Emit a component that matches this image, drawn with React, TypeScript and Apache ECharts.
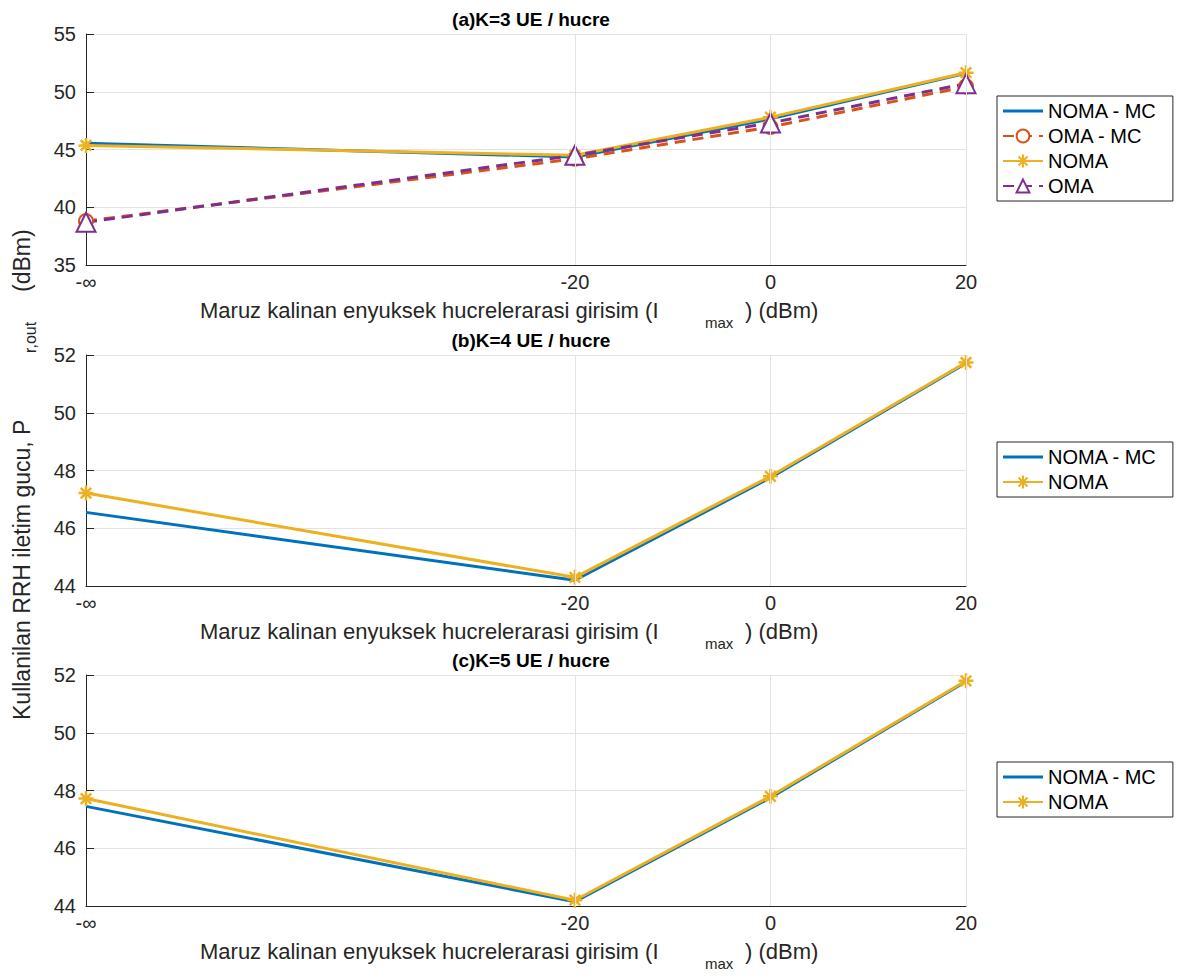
import React, { useEffect, useRef } from "react";
import * as echarts from "echarts";

// x positions: -70 stands for -infinity
const xVals = [-70, -20, 0, 20];
const xTickLabels = ["-∞", "-20", "0", "20"];

const aNomaMC = [45.55, 44.35, 47.65, 51.6];
const aOmaMC = [38.8, 44.2, 46.95, 50.45];
const aNoma = [45.35, 44.5, 47.8, 51.65];
const aOma = [38.7, 44.5, 47.3, 50.7];

const bNomaMC = [46.55, 44.2, 47.75, 51.72];
const bNoma = [47.22, 44.3, 47.8, 51.74];

const cNomaMC = [47.45, 44.15, 47.75, 51.78];
const cNoma = [47.72, 44.2, 47.8, 51.8];

const titles = ["(a)K=3 UE / hucre", "(b)K=4 UE / hucre", "(c)K=5 UE / hucre"];
const yRanges = [
  { min: 35, max: 55, interval: 5 },
  { min: 44, max: 52, interval: 2 },
  { min: 44, max: 52, interval: 2 },
];

const BLUE = "#0072BD";
const ORANGE = "#D95319";
const YELLOW = "#EDB120";
const PURPLE = "#7E2F8E";
const AX = "#262626";
const GRID = "#e3e3e3";
const FONT = "'Liberation Sans', Arial, Helvetica, sans-serif";
const ASTER = "path://M10,0L10,20M0,10L20,10M3,3L17,17M3,17L17,3";
const LINE_ICON = "path://M0,0L40,0L40,3L0,3Z";

const pts = (ys: number[]) => xVals.map((x, i) => [x, ys[i]]);

export default function App() {
  const ref = useRef<HTMLDivElement>(null);
  useEffect(() => {
    document.body.style.margin = "0";
    const chart = echarts.init(ref.current!, null, { renderer: "svg" });
    const tops = [34, 355, 675];
    const gridH = 231;
    const grids = tops.map((t) => ({ left: 86, width: 880, top: t, height: gridH }));
    const xAxes = tops.map((_, i) => ({
      type: "value",
      gridIndex: i,
      min: -70,
      max: 20,
      axisLine: { show: true, onZero: false, lineStyle: { color: AX, width: 1 } },
      axisTick: { show: true, inside: true, length: 8, customValues: [-20, 0, 20], lineStyle: { color: AX } },
      axisLabel: {
        show: true,
        customValues: xVals,
        color: AX,
        fontSize: 20,
        fontFamily: FONT,
        margin: 7,
        formatter: (v: number) => xTickLabels[xVals.indexOf(v)] ?? "",
      },
      splitLine: { show: false },
    }));
    const yAxes = tops.map((_, i) => ({
      type: "value",
      gridIndex: i,
      min: yRanges[i].min,
      max: yRanges[i].max,
      interval: yRanges[i].interval,
      axisLine: { show: true, onZero: false, lineStyle: { color: AX, width: 1 } },
      axisTick: { show: true, inside: true, length: 8, lineStyle: { color: AX } },
      axisLabel: { color: AX, fontSize: 20, fontFamily: FONT, margin: 10 },
      splitLine: { show: true, lineStyle: { color: GRID, width: 1 } },
    }));

    const gridSeries = tops.map((_, i) => ({
      type: "line",
      name: "grid" + i,
      xAxisIndex: i,
      yAxisIndex: i,
      z: 1,
      silent: true,
      data: [],
      showSymbol: false,
      lineStyle: { width: 0 },
      markLine: {
        silent: true,
        symbol: ["none", "none"],
        label: { show: false },
        lineStyle: { color: GRID, type: "solid", width: 1 },
        data: [{ xAxis: -20 }, { xAxis: 0 }, { xAxis: 20 }],
        animation: false,
      },
    }));

    const nomaMC = (i: number, d: number[]) => ({
      type: "line",
      name: "NOMA - MC",
      xAxisIndex: i,
      yAxisIndex: i,
      data: pts(d),
      symbol: "none",
      lineStyle: { color: BLUE, width: 3 },
      itemStyle: { color: BLUE },
    });
    const noma = (i: number, d: number[]) => ({
      type: "line",
      name: "NOMA",
      xAxisIndex: i,
      yAxisIndex: i,
      data: pts(d),
      symbol: ASTER,
      symbolSize: 15,
      lineStyle: { color: YELLOW, width: 3 },
      itemStyle: { color: YELLOW, borderColor: YELLOW, borderWidth: 2.5 },
    });
    const omaMC = (i: number, d: number[]) => ({
      type: "line",
      name: "OMA - MC",
      xAxisIndex: i,
      yAxisIndex: i,
      data: pts(d),
      symbol: "emptyCircle",
      symbolSize: 14,
      lineStyle: { color: ORANGE, width: 3, type: [11, 7] },
      itemStyle: { color: ORANGE, borderColor: ORANGE, borderWidth: 3 },
    });
    const oma = (i: number, d: number[]) => ({
      type: "line",
      name: "OMA",
      xAxisIndex: i,
      yAxisIndex: i,
      data: pts(d),
      symbol: "emptyTriangle",
      symbolSize: 19,
      lineStyle: { color: PURPLE, width: 3, type: [11, 7] },
      itemStyle: { color: PURPLE, borderColor: PURPLE, borderWidth: 3 },
    });

    const legendBase = {
      orient: "vertical",
      left: 997,
      itemWidth: 40,
      itemHeight: 16,
      itemGap: 5,
      padding: [5, 16, 5, 5],
      borderColor: AX,
      borderWidth: 1,
      backgroundColor: "#fff",
      textStyle: { fontSize: 20, fontFamily: FONT, color: "#000" },
      selectedMode: false,
    };
    const blueItem = { name: "NOMA - MC", icon: LINE_ICON };

    const xLabelParts = (bottom: number) => [
      {
        type: "text",
        left: 200,
        top: bottom + 34,
        style: { text: "Maruz kalinan enyuksek hucrelerarasi girisim (I", fontSize: 22, fontFamily: FONT, fill: AX },
      },
      {
        type: "text",
        left: 705,
        top: bottom + 50,
        style: { text: "max", fontSize: 15, fontFamily: FONT, fill: AX },
      },
      {
        type: "text",
        left: 745,
        top: bottom + 34,
        style: { text: ") (dBm)", fontSize: 22, fontFamily: FONT, fill: AX },
      },
    ];

    chart.setOption({
      animation: false,
      textStyle: { fontFamily: FONT },
      title: tops.map((t, i) => ({
        text: titles[i],
        left: 526,
        top: t - 29,
        textAlign: "center",
        textStyle: { fontSize: 19, fontWeight: "bold", color: "#000", fontFamily: FONT },
      })),
      grid: grids,
      xAxis: xAxes,
      yAxis: yAxes,
      legend: [
        { ...legendBase, top: 96, data: [blueItem, "OMA - MC", "NOMA", "OMA"] },
        { ...legendBase, top: 442, data: [blueItem, "NOMA"] },
        { ...legendBase, top: 762, data: [blueItem, "NOMA"] },
      ],
      series: [
        ...gridSeries,
        nomaMC(0, aNomaMC),
        omaMC(0, aOmaMC),
        noma(0, aNoma),
        oma(0, aOma),
        nomaMC(1, bNomaMC),
        noma(1, bNoma),
        nomaMC(2, cNomaMC),
        noma(2, cNoma),
      ],
      graphic: [
        ...tops.flatMap((t) => xLabelParts(t + gridH)),
        {
          type: "text",
          x: 22,
          y: 720,
          rotation: Math.PI / 2,
          style: {
            text: "Kullanilan RRH iletim gucu, P",
            fontSize: 23,
            fontFamily: FONT,
            fill: AX,
            textAlign: "left",
            textVerticalAlign: "middle",
          },
        },
        {
          type: "text",
          x: 30,
          y: 353,
          rotation: Math.PI / 2,
          style: { text: "r,out", fontSize: 16, fontFamily: FONT, fill: AX, textAlign: "left", textVerticalAlign: "middle" },
        },
        {
          type: "text",
          x: 22,
          y: 292,
          rotation: Math.PI / 2,
          style: { text: "(dBm)", fontSize: 23, fontFamily: FONT, fill: AX, textAlign: "left", textVerticalAlign: "middle" },
        },
      ],
    });
    return () => chart.dispose();
  }, []);
  return <div ref={ref} style={{ width: 1179, height: 978 }} />;
}
